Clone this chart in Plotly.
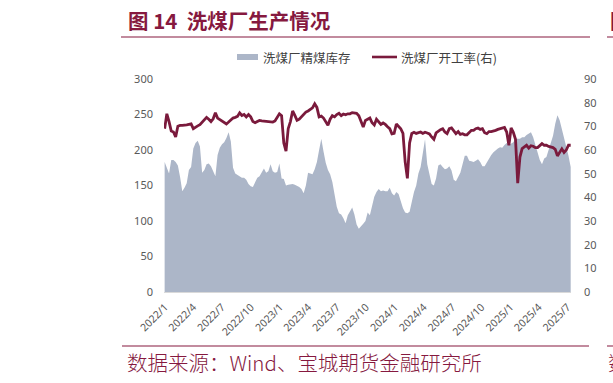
import plotly.graph_objects as go
import pandas as pd

# ---------------- data (weekly) ----------------
start_date = "2021-12-31"

inventory = [
    183, 176, 167, 186, 186, 183, 178, 162, 142, 147,
    153, 172, 176, 202, 210, 213, 205, 168, 172, 180,
    181, 177, 170, 163, 193, 203, 208, 211, 217, 225,
    212, 175, 167, 165, 162, 161, 161, 158, 152, 149,
    148, 155, 161, 163, 168, 174, 168, 170, 180, 170,
    168, 169, 181, 160, 159, 150, 151, 152, 152, 151,
    150, 148, 145, 139, 150, 168, 167, 166, 173, 183,
    200, 216, 198, 182, 172, 166, 155, 138, 120, 111,
    109, 104, 97, 108, 113, 119, 109, 95, 89, 92,
    96, 100, 112, 108, 123, 134, 141, 145, 142, 143,
    142, 142, 147, 139, 136, 141, 138, 128, 118, 112,
    111, 113, 128, 141, 150, 167, 176, 195, 215, 180,
    168, 152, 150, 160, 178, 180, 176, 173, 174, 177,
    171, 158, 156, 163, 168, 180, 192, 192, 185, 184,
    183, 185, 187, 183, 177, 177, 183, 189, 193, 197,
    200, 202, 204, 203, 207, 210, 207, 209, 211, 216,
    216, 216, 218, 218, 221, 223, 225, 218, 206, 197,
    186, 180, 188, 190, 200, 209, 220, 237, 249, 242,
    230, 217, 202, 192, 176,
]

utilization = [
    69, 75.3, 72, 68, 67.6, 65.5, 70, 70.4, 70.4, 70.4,
    70.6, 70.8, 71, 69, 69.7, 70.2, 70.7, 71.6, 72.5, 73.8,
    73, 72, 73.2, 75.7, 73.5, 72.8, 72.3, 71.6, 71, 71.8,
    72.5, 73.5, 73.8, 74.2, 75.7, 74.6, 75, 74, 75, 74,
    72, 71.5, 72, 72.5, 72.3, 72.2, 72, 71.9, 71.8, 71.8,
    72.3, 74, 75.3, 74.5, 63, 59.5, 69, 72, 76.5, 74.6,
    72.5, 73, 74, 75, 76, 76.5, 77, 77.8, 79.5, 78,
    74, 74.3, 73.5, 72, 70.5, 73, 74.5, 74, 75, 75.5,
    74.5, 75.2, 74.9, 75.3, 75.3, 75.8, 75.8, 75.5, 74.5, 72,
    69.7, 72.5, 73, 73.5, 71.5, 70.6, 73, 72, 70.8, 71.4,
    70.8, 69.8, 69, 66.8, 67, 71, 70, 69, 67, 55,
    48, 63, 67, 67.5, 67, 67.3, 67.6, 67, 67.5, 67.2,
    66.8, 65.5, 64.5, 67.2, 68, 68.6, 69, 67.6, 66.9, 69,
    69.3, 68, 66.9, 67.8, 66.6, 66.9, 66.4, 66.4, 67.3, 68.3,
    68.3, 69, 69.3, 68.7, 69, 67.3, 66.9, 67.8, 67.8, 67.9,
    68.3, 68.7, 69, 69.3, 69.5, 67.6, 62, 69.3, 67.5, 64.5,
    46, 57, 60.6, 61.3, 62, 60.8, 61.8, 61.6, 61, 61,
    62, 62.7, 62, 62, 61.5, 61.3, 61, 60.3, 57.5, 59,
    60.5, 59, 60, 62, 62,
]

tick_vals = ["2022-01-01", "2022-04-01", "2022-07-01", "2022-10-01",
             "2023-01-01", "2023-04-01", "2023-07-01", "2023-10-01",
             "2024-01-01", "2024-04-01", "2024-07-01", "2024-10-01",
             "2025-01-01", "2025-04-01", "2025-07-01"]
tick_text = ["2022/1", "2022/4", "2022/7", "2022/10",
             "2023/1", "2023/4", "2023/7", "2023/10",
             "2024/1", "2024/4", "2024/7", "2024/10",
             "2025/1", "2025/4", "2025/7"]

left_ticks = [0, 50, 100, 150, 200, 250, 300]
right_ticks = [0, 10, 20, 30, 40, 50, 60, 70, 80, 90]

series_area_name = "洗煤厂精煤库存"
series_line_name = "洗煤厂开工率(右)"
title_text = "图 14  洗煤厂生产情况"
source_text = "数据来源：Wind、宝城期货金融研究所"

dates = pd.date_range(start_date, periods=len(inventory), freq="7D")

# ---------------- style ----------------
AREA = "#ACB6C8"
LINE = "#7A1A3C"
MAROON = "#86193F"
TICK = "#595959"
CJK = "Noto Sans CJK SC"

FW, FH = 613, 383
L, R, T, B = 164, 571, 79, 292


def px(x):
    return (x - L) / (R - L)


def py(y):
    return (B - y) / (B - T)


fig = go.Figure()
fig.add_trace(go.Scatter(
    x=dates, y=inventory, mode="lines", name=series_area_name,
    line=dict(width=0, color=AREA), fill="tozeroy", fillcolor=AREA,
    yaxis="y", showlegend=False))
fig.add_trace(go.Scatter(
    x=dates, y=utilization, mode="lines", name=series_line_name,
    line=dict(width=2.8, color=LINE), yaxis="y2", showlegend=False))

fig.update_layout(
    width=FW, height=FH,
    margin=dict(l=L, r=FW - R, t=T, b=FH - B, pad=0, autoexpand=False),
    paper_bgcolor="white", plot_bgcolor="white",
    font=dict(family="Noto Sans", color=TICK),
    xaxis=dict(
        type="date", range=["2021-12-29", "2025-07-12"],
        tickvals=tick_vals, ticktext=tick_text, tickangle=-45,
        tickfont=dict(size=10.5, color=TICK, family="Noto Sans"),
        showgrid=False, zeroline=False, showline=True, automargin=False,
        linecolor="#D9D9D9", linewidth=1, ticks="", ticklabelstandoff=4),
    yaxis=dict(
        range=[0, 300], tickvals=left_ticks, showgrid=False, zeroline=False,
        showline=False, ticks="", tickfont=dict(size=11, color=TICK),
        ticklabelstandoff=10, automargin=False),
    yaxis2=dict(
        range=[0, 90], tickvals=right_ticks, overlaying="y", side="right",
        showgrid=False, zeroline=False, showline=False, ticks="",
        tickfont=dict(size=11, color=TICK), ticklabelstandoff=12,
        automargin=False),
)

shapes = [
    # title underline & footer line
    dict(type="line", xref="paper", yref="paper", x0=px(121), x1=px(590),
         y0=py(37), y1=py(37), line=dict(color=MAROON, width=1.2)),
    dict(type="line", xref="paper", yref="paper", x0=px(607), x1=px(640),
         y0=py(37), y1=py(37), line=dict(color=MAROON, width=1.2)),
    dict(type="line", xref="paper", yref="paper", x0=px(122), x1=px(589),
         y0=py(346), y1=py(346), line=dict(color=MAROON, width=1.2)),
    dict(type="line", xref="paper", yref="paper", x0=px(607), x1=px(640),
         y0=py(346), y1=py(346), line=dict(color=MAROON, width=1.2)),
    # legend icons
    dict(type="rect", xref="paper", yref="paper", x0=px(237), x1=px(258),
         y0=py(60), y1=py(54), fillcolor=AREA, line=dict(width=0)),
    dict(type="line", xref="paper", yref="paper", x0=px(372), x1=px(397),
         y0=py(57), y1=py(57), line=dict(color=LINE, width=2.6)),
]

annotations = [
    dict(text="<b>" + title_text + "</b>", xref="paper", yref="paper",
         x=px(126), y=py(20), xanchor="left", yanchor="middle",
         showarrow=False, font=dict(family=CJK, size=20.5, color=MAROON)),
    dict(text="<b>图</b>", xref="paper", yref="paper",
         x=px(608), y=py(20), xanchor="left", yanchor="middle",
         showarrow=False, font=dict(family=CJK, size=20.5, color=MAROON)),
    dict(text=source_text, xref="paper", yref="paper",
         x=px(125), y=py(362), xanchor="left", yanchor="middle",
         showarrow=False,
         font=dict(family=CJK, size=20.5, color=MAROON, weight=300)),
    dict(text="数", xref="paper", yref="paper",
         x=px(606), y=py(362), xanchor="left", yanchor="middle",
         showarrow=False,
         font=dict(family=CJK, size=20.5, color=MAROON, weight=300)),
    dict(text=series_area_name, xref="paper", yref="paper",
         x=px(261), y=py(57), xanchor="left", yanchor="middle",
         showarrow=False, font=dict(family=CJK, size=12.5, color="#404040")),
    dict(text=series_line_name, xref="paper", yref="paper",
         x=px(399), y=py(57), xanchor="left", yanchor="middle",
         showarrow=False, font=dict(family=CJK, size=12.5, color="#404040")),
]

fig.update_layout(shapes=shapes, annotations=annotations)
fig.write_html(
    "out.html",
    config={"displayModeBar": False},
    post_script="document.body.style.margin='0';document.body.style.overflow='hidden';",
)
